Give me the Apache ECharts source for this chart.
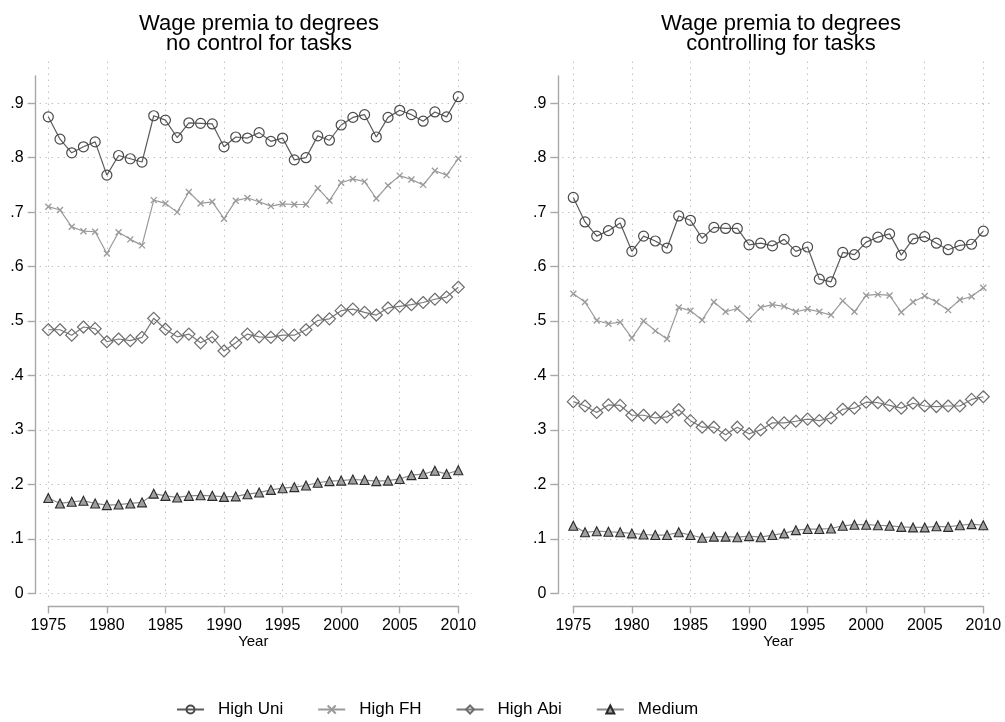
<!DOCTYPE html>
<html>
<head>
<meta charset="utf-8">
<script src="https://cdn.jsdelivr.net/npm/echarts@6/dist/echarts.min.js"></script>
<style>
html,body{margin:0;padding:0;background:#fff;}
#c{width:1005px;height:722px;}
</style>
</head>
<body>
<div id="c"></div>
<script>
// ---- data ----
const years = [1975,1976,1977,1978,1979,1980,1981,1982,1983,1984,1985,1986,1987,1988,1989,1990,1991,1992,1993,1994,1995,1996,1997,1998,1999,2000,2001,2002,2003,2004,2005,2006,2007,2008,2009,2010];
const xTicks = [1975,1980,1985,1990,1995,2000,2005,2010];
const yTicks = [0,0.1,0.2,0.3,0.4,0.5,0.6,0.7,0.8,0.9];
const seriesNames = ['High Uni','High FH','High Abi','Medium'];
const panelTitles = ['Wage premia to degrees\nno control for tasks','Wage premia to degrees\ncontrolling for tasks'];

// left panel: no control for tasks
const uniL = [0.875,0.834,0.809,0.820,0.829,0.768,0.804,0.798,0.792,0.877,0.869,0.837,0.864,0.863,0.862,0.820,0.838,0.836,0.846,0.830,0.836,0.796,0.800,0.840,0.832,0.860,0.874,0.879,0.838,0.874,0.887,0.879,0.867,0.884,0.875,0.912];
const fhL  = [0.710,0.704,0.673,0.665,0.664,0.624,0.663,0.650,0.639,0.722,0.716,0.700,0.737,0.716,0.719,0.688,0.721,0.726,0.719,0.711,0.715,0.714,0.714,0.744,0.721,0.754,0.761,0.756,0.725,0.749,0.767,0.760,0.750,0.776,0.768,0.798];
const abiL = [0.484,0.484,0.474,0.489,0.486,0.462,0.467,0.464,0.470,0.505,0.485,0.471,0.476,0.460,0.471,0.445,0.460,0.476,0.471,0.470,0.474,0.474,0.484,0.501,0.504,0.519,0.522,0.516,0.511,0.524,0.527,0.530,0.534,0.540,0.544,0.562];
const medL = [0.175,0.165,0.168,0.170,0.165,0.162,0.163,0.165,0.167,0.183,0.179,0.176,0.179,0.180,0.179,0.177,0.178,0.182,0.185,0.190,0.193,0.195,0.198,0.203,0.206,0.207,0.209,0.208,0.206,0.207,0.210,0.217,0.219,0.225,0.219,0.226];

// right panel: controlling for tasks
const uniR = [0.727,0.682,0.656,0.666,0.680,0.628,0.656,0.647,0.634,0.693,0.685,0.652,0.672,0.670,0.670,0.640,0.643,0.638,0.650,0.628,0.636,0.577,0.572,0.626,0.622,0.645,0.654,0.660,0.621,0.651,0.655,0.643,0.631,0.639,0.641,0.665];
const fhR  = [0.550,0.535,0.501,0.495,0.498,0.469,0.500,0.482,0.467,0.525,0.519,0.502,0.535,0.517,0.523,0.503,0.525,0.530,0.527,0.517,0.522,0.517,0.511,0.537,0.517,0.547,0.549,0.547,0.516,0.535,0.546,0.535,0.520,0.539,0.545,0.561];
const abiR = [0.352,0.344,0.332,0.346,0.345,0.327,0.327,0.322,0.324,0.337,0.317,0.305,0.305,0.291,0.305,0.293,0.300,0.313,0.313,0.316,0.320,0.317,0.322,0.338,0.340,0.351,0.350,0.345,0.340,0.349,0.344,0.343,0.344,0.344,0.356,0.361];
const medR = [0.124,0.112,0.114,0.113,0.112,0.110,0.108,0.107,0.107,0.112,0.107,0.102,0.104,0.104,0.103,0.105,0.103,0.107,0.110,0.116,0.118,0.118,0.119,0.124,0.126,0.126,0.125,0.124,0.122,0.121,0.121,0.123,0.122,0.125,0.127,0.125];

// ---- layout / styles ----
const FONT = '"Liberation Sans", Arial, Helvetica, sans-serif';
const X0 = 1975, X1 = 2010, YMAX = 0.95;
const dataTop = 76, dataBottomY = 593.3, dataW = 410;
const dataH = dataBottomY - dataTop;
const pxYear = dataW / (X1 - X0);
const pxVal = dataH / YMAX;
const bgTop = 61.7, bgBottomY = 601.7;

const panels = [
  {left: 48.3, axisOff: 12.6, bgRight: 472, titleX: 254, data: [uniL, fhL, abiL, medL]},
  {left: 573.3, axisOff: 15, bgRight: 990, titleX: 776, data: [uniR, fhR, abiR, medR]}
];

const styles = [
  {symbol: 'circle', size: 10, line: '#5a5a5a', item: {color: 'none', borderColor: '#4a4a4a', borderWidth: 1.2}},
  {symbol: 'path://M0,0L10,10M10,0L0,10', size: 6, line: '#9a9a9a', item: {color: 'none', borderColor: '#9a9a9a', borderWidth: 1.3}},
  {symbol: 'diamond', size: 12, line: '#7a7a7a', item: {color: 'none', borderColor: '#6e6e6e', borderWidth: 1.2}},
  {symbol: 'triangle', size: 9, line: '#8a8a8a', item: {color: '#a0a0a0', borderColor: '#2a2a2a', borderWidth: 1.1}}
];

const grid = [], xAxis = [], yAxis = [], series = [], title = [];
const axisColor = '#a8a8a8';
const gridLine = {show: true, lineStyle: {color: '#a6a6a6', width: 1, type: [1, 5]}};
const hiddenTick = {show: true, length: 0, lineStyle: {color: 'rgba(0,0,0,0)', width: 0}};

panels.forEach((p, pi) => {
  const bgLeft = p.left - p.axisOff + 4;
  // data grid
  grid.push({left: p.left, top: dataTop, width: dataW, height: dataH, outerBoundsMode: 'none', containLabel: false});
  // background grid for dotted grid lines
  grid.push({left: bgLeft, top: bgTop, width: p.bgRight - bgLeft, height: bgBottomY - bgTop, outerBoundsMode: 'none', containLabel: false});
  const gi = pi * 2;
  xAxis.push({
    type: 'value', gridIndex: gi, min: X0, max: X1, interval: 5, offset: 12.7,
    axisLine: {show: true, onZero: false, lineStyle: {color: axisColor, width: 1.4}},
    axisTick: {show: true, length: 7.5, lineStyle: {color: axisColor, width: 1.4}, customValues: xTicks},
    axisLabel: {show: true, margin: 12, color: '#000', fontSize: 16, fontFamily: FONT, customValues: xTicks,
      formatter: v => String(Math.round(v))},
    splitLine: {show: false},
    name: 'Year', nameLocation: 'middle', nameGap: 28, nameMoveOverlap: false,
    nameTextStyle: {color: '#000', fontSize: 15, fontFamily: FONT}
  });
  yAxis.push({
    type: 'value', gridIndex: gi, min: 0, max: YMAX, interval: 0.1, offset: p.axisOff,
    axisLine: {show: true, onZero: false, lineStyle: {color: axisColor, width: 1.4}},
    axisTick: {show: true, length: 8, lineStyle: {color: axisColor, width: 1.4}, customValues: yTicks},
    axisLabel: {show: true, margin: 12, color: '#000', fontSize: 16, fontFamily: FONT, customValues: yTicks,
      formatter: v => (Math.abs(v) < 1e-9 ? '0' : '.' + Math.round(v * 10))},
    splitLine: {show: false}
  });
  const bgLeftPx = p.left - bgLeft;
  xAxis.push({
    type: 'value', gridIndex: gi + 1,
    min: X0 - bgLeftPx / pxYear, max: X1 + (p.bgRight - (p.left + dataW)) / pxYear,
    axisLine: {show: false},
    axisTick: Object.assign({customValues: xTicks}, hiddenTick),
    axisLabel: {show: false, customValues: xTicks},
    splitLine: gridLine
  });
  yAxis.push({
    type: 'value', gridIndex: gi + 1,
    min: -(bgBottomY - dataBottomY) / pxVal, max: (dataBottomY - bgTop) / pxVal,
    axisLine: {show: false},
    axisTick: Object.assign({customValues: yTicks}, hiddenTick),
    axisLabel: {show: false, customValues: yTicks},
    splitLine: gridLine
  });
  title.push({
    text: panelTitles[pi], left: p.titleX, top: 9, textAlign: 'center',
    textStyle: {fontSize: 22, fontWeight: 'normal', color: '#000', fontFamily: FONT, lineHeight: 20}
  });
  p.data.forEach((arr, si) => {
    const s = styles[si];
    series.push({
      name: seriesNames[si], type: 'line', xAxisIndex: gi, yAxisIndex: gi,
      data: years.map((y, k) => [y, arr[k]]),
      symbol: s.symbol, symbolSize: s.size, showSymbol: true, showAllSymbol: true,
      lineStyle: {color: s.line, width: 1.2},
      itemStyle: s.item, clip: false, animation: false, z: 3 + si
    });
  });
});

const chart = echarts.init(document.getElementById('c'), null, {renderer: 'canvas'});
chart.setOption({
  backgroundColor: '#fff',
  animation: false,
  title: title,
  grid: grid, xAxis: xAxis, yAxis: yAxis, series: series,
  legend: {
    data: seriesNames, left: 171, top: 696, orient: 'horizontal',
    itemWidth: 27, itemHeight: 10, itemGap: 34,
    textStyle: {color: '#000', fontSize: 17, fontFamily: FONT, padding: [0, 0, 0, 9]},
    selectedMode: false
  }
});
</script>
</body>
</html>
